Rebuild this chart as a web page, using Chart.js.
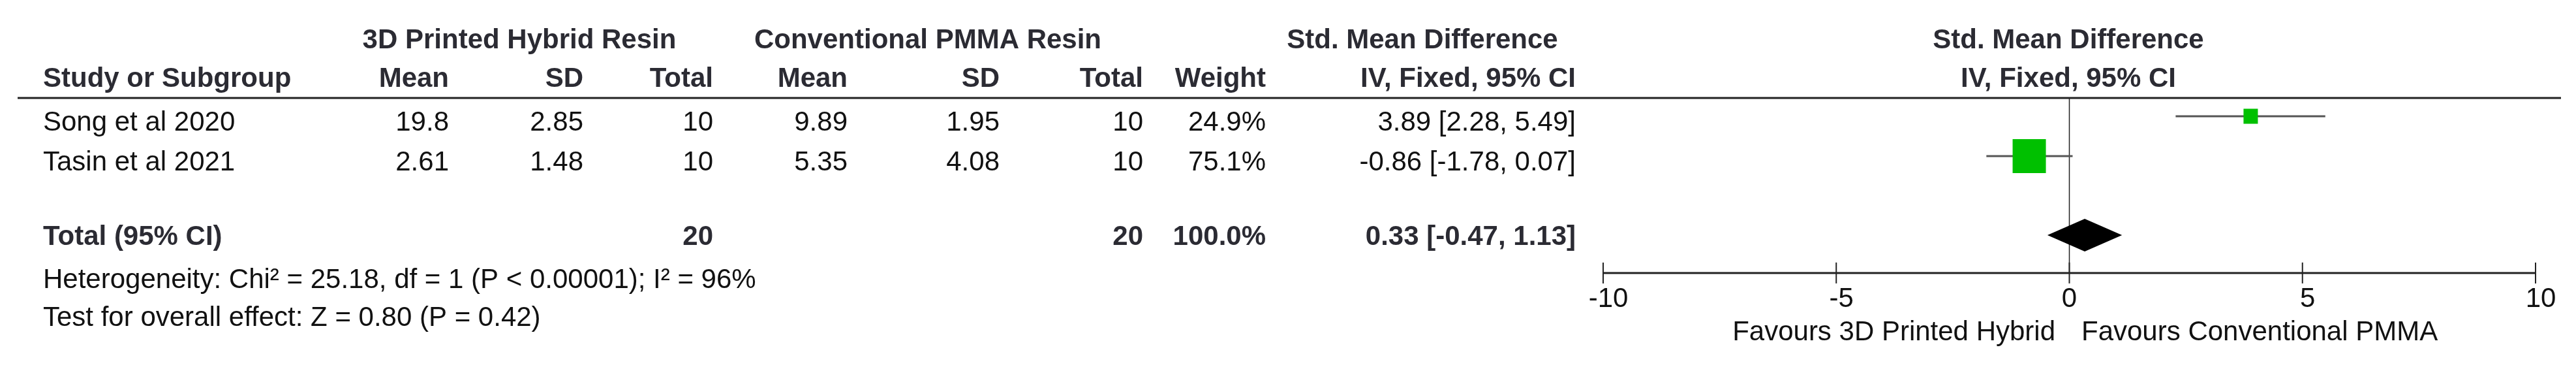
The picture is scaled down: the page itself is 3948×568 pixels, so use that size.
<!DOCTYPE html>
<html><head><meta charset="utf-8">
<script src="https://cdn.jsdelivr.net/npm/chart.js@4/dist/chart.umd.min.js"></script>
<style>html,body{margin:0;padding:0;background:#fff}</style>
</head><body>
<canvas id="c" width="3948" height="568"></canvas>
<script>
const studies = ["Song et al 2020", "Tasin et al 2021"];
const expMean = ["19.8", "2.61"];
const expSD = ["2.85", "1.48"];
const expN = ["10", "10"];
const ctlMean = ["9.89", "5.35"];
const ctlSD = ["1.95", "4.08"];
const ctlN = ["10", "10"];
const weightTxt = ["24.9%", "75.1%"];
const smd = [3.89, -0.86];
const lo = [2.28, -1.78];
const hi = [5.49, 0.07];
const weights = [24.9, 75.1];
const total = {est: 0.33, lo: -0.47, hi: 1.13};
const xTicks = [-10, -5, 0, 5, 10];
const rowPos = [1, 2];
const totalRow = 4;
const axisRow = 4.9;

const F = '"Liberation Sans", Arial, sans-serif';
const TXT = '#111';
const HDR = '#2b2b33';

const forest = {
  id: 'forest',
  afterDraw(chart) {
    const c = chart.ctx, xs = chart.scales.x, ys = chart.scales.y;
    const X = v => xs.getPixelForValue(v), Y = v => ys.getPixelForValue(v);
    c.save();
    function t(s, x, y, align, bold, col) {
      c.font = (bold ? 'bold ' : '') + '42px ' + F;
      c.fillStyle = col || TXT; c.textAlign = align; c.textBaseline = 'middle';
      c.fillText(s, x, y);
    }
    t('3D Printed Hybrid Resin', 796, 62, 'center', true, HDR);
    t('Conventional PMMA Resin', 1422, 62, 'center', true, HDR);
    t('Std. Mean Difference', 2180, 62, 'center', true, HDR);
    t('Std. Mean Difference', 3170, 62, 'center', true, HDR);
    t('Study or Subgroup', 66, 121, 'left', true, HDR);
    t('Mean', 688, 121, 'right', true, HDR);
    t('SD', 894, 121, 'right', true, HDR);
    t('Total', 1093, 121, 'right', true, HDR);
    t('Mean', 1299, 121, 'right', true, HDR);
    t('SD', 1532, 121, 'right', true, HDR);
    t('Total', 1752, 121, 'right', true, HDR);
    t('Weight', 1940, 121, 'right', true, HDR);
    t('IV, Fixed, 95% CI', 2415, 121, 'right', true, HDR);
    t('IV, Fixed, 95% CI', 3170, 121, 'center', true, HDR);
    c.strokeStyle = '#222'; c.lineWidth = 3;
    c.beginPath(); c.moveTo(27, 150); c.lineTo(3925, 150); c.stroke();
    studies.forEach((s, i) => {
      const y = Y(rowPos[i]) + 8;
      t(s, 66, y, 'left');
      t(expMean[i], 688, y, 'right'); t(expSD[i], 894, y, 'right'); t(expN[i], 1093, y, 'right');
      t(ctlMean[i], 1299, y, 'right'); t(ctlSD[i], 1532, y, 'right'); t(ctlN[i], 1752, y, 'right');
      t(weightTxt[i], 1940, y, 'right');
      t(smd[i].toFixed(2) + ' [' + lo[i].toFixed(2) + ', ' + hi[i].toFixed(2) + ']', 2415, y, 'right');
    });
    const ty = Y(totalRow);
    t('Total (95% CI)', 66, ty, 'left', true, HDR);
    t('20', 1093, ty, 'right', true, HDR);
    t('20', 1752, ty, 'right', true, HDR);
    t('100.0%', 1940, ty, 'right', true, HDR);
    t(total.est.toFixed(2) + ' [' + total.lo.toFixed(2) + ', ' + total.hi.toFixed(2) + ']', 2415, ty, 'right', true, HDR);
    t('Heterogeneity: Chi² = 25.18, df = 1 (P < 0.00001); I² = 96%', 66, 429, 'left');
    t('Test for overall effect: Z = 0.80 (P = 0.42)', 66, 487, 'left');
    const ay = Y(axisRow);
    c.strokeStyle = '#222'; c.lineWidth = 1.5;
    c.beginPath(); c.moveTo(X(0), 150); c.lineTo(X(0), ay); c.stroke();
    studies.forEach((s, i) => {
      const y = Y(rowPos[i]) - 2;
      c.strokeStyle = '#555'; c.lineWidth = 3;
      c.beginPath(); c.moveTo(X(lo[i]), y); c.lineTo(X(hi[i]), y); c.stroke();
      c.fillStyle = '#00c000';
      const sw = weights[i] > 50 ? 51 : 22, sh = weights[i] > 50 ? 52 : 23;
      c.fillRect(X(smd[i]) - sw / 2, y - sh / 2, sw, sh);
    });
    c.fillStyle = '#000';
    c.beginPath();
    c.moveTo(X(total.lo), ty - 3); c.lineTo(X(total.est), ty - 28);
    c.lineTo(X(total.hi), ty - 3); c.lineTo(X(total.est), ty + 22); c.closePath(); c.fill();
    c.strokeStyle = '#222'; c.lineWidth = 3;
    c.beginPath(); c.moveTo(X(xTicks[0]), ay); c.lineTo(X(xTicks[xTicks.length - 1]), ay); c.stroke();
    c.lineWidth = 2;
    xTicks.forEach(v => {
      c.beginPath(); c.moveTo(X(v), ay - 16); c.lineTo(X(v), ay + 16); c.stroke();
      t(String(v), X(v) + (v === 0 ? 0 : 8), 458, 'center');
    });
    t('Favours 3D Printed Hybrid', 3150, 509, 'right');
    t('Favours Conventional PMMA', 3190, 509, 'left');
    c.restore();
  }
};

new Chart(document.getElementById('c'), {
  type: 'scatter',
  data: { datasets: [{ data: [], pointRadius: 0 }] },
  options: {
    responsive: false, animation: false, devicePixelRatio: 1,
    layout: { padding: { left: 2457, right: 3948 - 3886, top: 0, bottom: 0 } },
    plugins: { legend: { display: false }, tooltip: { enabled: false } },
    scales: {
      x: { type: 'linear', min: -10, max: 10, display: false },
      y: { type: 'linear', min: -119 / 61, max: (568 - 119) / 61, reverse: true, display: false }
    }
  },
  plugins: [forest]
});
</script>
</body></html>
